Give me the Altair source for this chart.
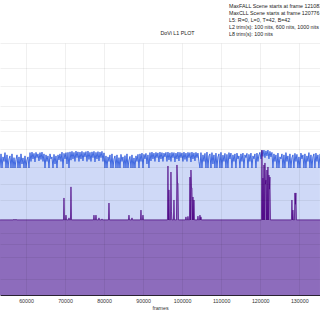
import altair as alt
import pandas as pd

# ---------------- data ----------------
title_text = "DoVi L1 PLOT"
info_lines = [
    "MaxFALL Scene starts at frame 121083",
    "MaxCLL Scene starts at frame 120776",
    "L5: R=0, L=0, T=42, B=42",
    "L2 trim(s): 100 nits, 600 nits, 1000 nits",
    "L8 trim(s): 100 nits",
]
x_ticks = [60000, 70000, 80000, 90000, 100000, 110000, 120000, 130000]
grid_nits = [0.1, 1, 2.5, 5, 10, 25, 50, 100, 200, 400, 600, 1000, 2000, 4000, 10000]

# max (MaxCLL) series, one sample every ~256 frames, PQ x 1000
max_start_frame = 53340
max_frame_step = 256.1
max_pq_milli = [
    504, 560, 504, 548, 530, 565, 504, 556, 504, 540, 552, 504, 560, 504, 545, 504, 538, 556, 504, 548,
    504, 560, 520, 544, 504, 552, 504, 536, 548, 504,
    565, 530, 567, 540, 562, 528, 566, 545, 560, 532, 565, 538, 567, 530, 560,
    504, 556, 530, 552, 504, 560, 540, 548, 504, 558, 520, 552, 504, 556, 536,
    560, 530, 567, 504, 562, 540, 565, 520, 566, 504,
    568, 535, 570, 540, 566, 530, 571, 545, 568, 530, 567, 540, 570, 532, 566, 548, 569, 530, 571, 538,
    566, 530, 568, 545, 570, 528, 566, 540, 569, 532, 567, 545, 570, 530, 564,
    504, 552, 504, 548, 530, 556, 504, 560, 504, 540, 552, 504, 556, 504, 545, 504, 558, 530, 548, 504,
    553, 504, 560, 504, 536, 550, 504, 556, 504, 544, 504, 552, 530, 558, 504,
    560, 530, 563, 504, 558, 540, 562, 520, 556, 504,
    565, 532, 567, 540, 563, 530, 566, 545, 564, 528, 567, 540, 565, 530, 563, 548, 566, 530, 567, 536,
    564, 530, 566, 545, 565, 528, 563, 540, 567, 532, 566, 545, 564, 530, 567, 538, 563, 530, 566, 545,
    565, 528, 567, 540, 564, 532, 566, 545, 563, 530,
    504, 565, 504, 556, 530, 562, 504, 567, 504, 552, 560, 504, 565, 520, 556, 504, 563, 504, 548, 560,
    504, 566, 504, 555, 530, 562, 504, 558, 504, 565,
    540, 563, 504, 556, 530, 560, 504, 563, 540, 552, 504, 560, 530, 563, 504, 556, 545, 562, 504, 558,
    530, 563, 504, 552, 540, 560, 504, 563, 530, 556,
    566, 540, 574, 550, 575, 545, 572, 552, 575, 540, 570, 548, 566,
    504, 560, 530, 556, 504, 563, 504, 548, 540, 560, 504, 556, 504, 565, 530, 552, 504, 560, 504, 545,
    556, 504, 562, 530, 558, 504, 548, 504, 563, 540, 556, 504, 560, 504, 552, 530, 565, 504, 556, 504,
    548, 560, 504, 563, 530, 556, 504, 560,
]

# average (MaxFALL) series vertices: frame, PQ x 1000
avg_frames = [
    52828,
    56797, 56925, 57053, 57310, 57438, 57566,
    69602, 69730, 69858, 70115, 70243, 70371,
    70883, 71011, 71139, 71395, 71523, 71651,
    77285, 77413, 77541, 77798, 77926, 78054,
    78566, 78694, 78822, 79334, 79462, 79590,
    81127, 81255, 81383,
    86249, 86377, 86505, 87017, 87145, 87273,
    89322, 89450, 89578, 89834, 89962, 90090,
    96237, 96365, 96493, 96621, 96749, 97005, 97133, 97261, 97389,
    97773, 97901, 98029, 98542, 98670, 98798, 98926, 99054,
    100847, 100975, 101103, 101359, 101487, 101615, 101871, 101999, 102127,
    102255, 102383, 102511, 102639, 102767, 102895, 103023, 103151,
    103920, 104048, 104176, 104432, 104560, 104688, 104816, 104944,
    120310, 120438, 120566, 120694, 120822, 120950, 121078, 121207, 121335,
    121463, 121591, 121719, 121847, 121975, 122103, 122231, 122359, 122487, 122615,
    127993, 128121, 128249, 128377, 128505, 128761, 128890, 129018, 129146, 129274,
    135804,
]
avg_pq_milli = [
    298,
    298, 301, 298, 298, 301, 298,
    298, 385, 298, 298, 317, 298,
    298, 306, 298, 298, 429, 298,
    298, 317, 298, 298, 317, 298,
    298, 306, 298, 298, 302, 298,
    298, 365, 298,
    298, 317, 298, 298, 306, 298,
    298, 337, 298, 298, 317, 298,
    298, 512, 298, 417, 298, 298, 488, 330, 298,
    298, 377, 298, 298, 516, 444, 444, 298,
    298, 310, 298, 298, 312, 298, 298, 468, 298,
    496, 425, 425, 298, 389, 298, 377, 298,
    298, 313, 298, 298, 317, 298, 310, 298,
    298, 575, 298, 464, 298, 516, 298, 524, 440,
    456, 298, 496, 298, 508, 298, 476, 420, 468, 298,
    298, 377, 298, 337, 298, 298, 405, 360, 405, 298,
    298,
]


# ---------------- helpers ----------------
def pq(nits):
    m1, m2 = 0.1593017578125, 78.84375
    c1, c2, c3 = 0.8359375, 18.8515625, 18.6875
    y = (nits / 10000.0) ** m1
    return ((c1 + c2 * y) / (1 + c3 * y)) ** m2


grid_pq = [pq(n) for n in grid_nits]

max_df = pd.DataFrame({
    "frame": [max_start_frame + max_frame_step * i for i in range(len(max_pq_milli))],
    "pq": [v / 1000 for v in max_pq_milli],
})
avg_df = pd.DataFrame({"frame": avg_frames, "pq": [v / 1000 for v in avg_pq_milli]})

FONT = "Liberation Sans"
xs = alt.Scale(domain=[53340, 135310], nice=False, zero=False)
ys = alt.Scale(domain=[0, 1], nice=False, zero=False)

x_axis = alt.Axis(
    values=x_ticks, format="d", title="frames", grid=True, gridColor="#000000",
    gridOpacity=0.06, ticks=False, domain=True, domainColor="#2a2233", domainWidth=1,
    labelFontSize=5.3, labelFont=FONT, labelColor="#333333", labelPadding=3,
    labelFlush=False, titleFont=FONT, titleFontSize=5.3, titleFontWeight="normal",
    titleColor="#333333", titlePadding=2, zindex=1,
)
y_axis = alt.Axis(
    values=grid_pq, labels=False, ticks=False, domain=False, title="", grid=True,
    gridColor="#000000", gridOpacity=0.06, zindex=1,
)

X = alt.X("frame:Q", scale=xs, axis=x_axis)
Y = alt.Y("pq:Q", scale=ys, axis=y_axis)

ROYAL = "#4169e1"
INDIGO = "#4b0082"

max_area = alt.Chart(max_df).mark_area(color=ROYAL, opacity=0.25, clip=True).encode(x=X, y=Y)
max_line = alt.Chart(max_df).mark_line(color=ROYAL, strokeWidth=1, clip=True).encode(x=X, y=Y)
avg_area = alt.Chart(avg_df).mark_area(color=INDIGO, opacity=0.5, clip=True).encode(x=X, y=Y)
avg_line = alt.Chart(avg_df).mark_line(color=INDIGO, strokeWidth=0.7, clip=True).encode(x=X, y=Y)

one = pd.DataFrame({"a": [0]})
title_mark = alt.Chart(one).mark_text(
    text=title_text, x=177.5, y=-9.7, align="center", baseline="middle",
    fontSize=5.3, font=FONT, color="#222222",
)
info_mark = alt.Chart(one).mark_text(
    text=info_lines, x=229, y=-39.5, align="left", baseline="top", lineHeight=7.1,
    fontSize=5.3, font=FONT, color="#222222",
)

chart = alt.layer(max_area, max_line, avg_area, avg_line, title_mark, info_mark).properties(
    width=320, height=252,
    padding={"top": 43, "left": 0, "right": 0, "bottom": 25},
    autosize=alt.AutoSizeParams(type="none"),
    background="white",
).configure_view(stroke=None)

chart.save("out.html", embed_options={"renderer": "svg", "actions": False})
